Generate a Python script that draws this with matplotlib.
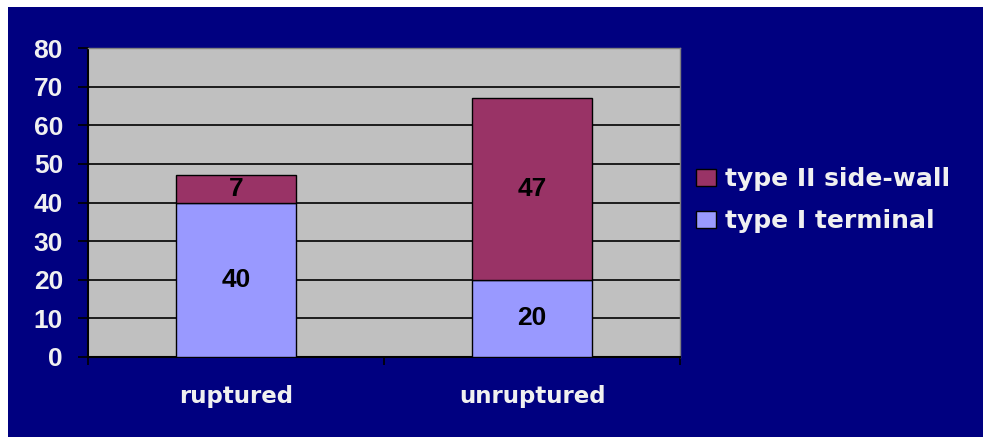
import matplotlib
matplotlib.use('Agg')
import matplotlib.pyplot as plt
from matplotlib.patches import Rectangle
import numpy as np

categories = ['ruptured', 'unruptured']
type1_terminal = [40, 20]
type2_sidewall = [7, 47]
y_ticks = [0, 10, 20, 30, 40, 50, 60, 70, 80]

NAVY = '#000080'
GRAY = '#C0C0C0'
BLUE = '#9999FF'
PURPLE = '#993366'
TXT = '#F0F0F0'
NUMFONT = ['Liberation Sans', 'DejaVu Sans']

plt.rcParams['font.family'] = ['DejaVu Sans']
plt.rcParams['font.weight'] = 'bold'

fig = plt.figure(figsize=(9.83, 4.37), dpi=100, facecolor='white')
# navy chart background, white strip at top and left
fig.patches.append(Rectangle((8/983, 0), 1 - 8/983, 430/437, transform=fig.transFigure,
                             facecolor=NAVY, edgecolor='none', zorder=-10))

ax = fig.add_axes([88/983, 80/437, 592/983, 309/437])
ax.set_facecolor(GRAY)

x = np.arange(len(categories))
b1 = ax.bar(x, type1_terminal, width=0.405, color=BLUE, edgecolor='black', linewidth=1,
            label='type I terminal', zorder=3)
b2 = ax.bar(x, type2_sidewall, width=0.405, bottom=type1_terminal, color=PURPLE,
            edgecolor='black', linewidth=1, label='type II side-wall', zorder=3)
for bc in (b1, b2):
    for t in ax.bar_label(bc, label_type='center', fontsize=19, fontweight='bold', color='black'):
        t.set_family(NUMFONT)

ax.set_xlim(-0.5, 1.5)
ax.set_ylim(0, 80)
ax.set_yticks(y_ticks)
ax.set_yticklabels([str(t) for t in y_ticks], fontsize=19, fontweight='bold', color=TXT,
                   family=NUMFONT)
ax.yaxis.grid(True, color='black', linewidth=1.2, zorder=1)
ax.set_axisbelow(True)

ax.set_xticks(x)
ax.set_xticklabels(categories, fontsize=16.5, fontweight='bold', color=TXT)
ax.set_xticks([-0.5, 0.5, 1.5], minor=True)
ax.tick_params(axis='x', which='major', length=0, pad=20)
ax.tick_params(axis='x', which='minor', length=6, width=1.2, color='black', direction='out')
ax.tick_params(axis='y', length=7, width=1.2, color='black', direction='out', pad=11)

for s in ['left', 'bottom']:
    ax.spines[s].set_color('black')
    ax.spines[s].set_linewidth(1.5)
for s in ['top', 'right']:
    ax.spines[s].set_color('#808080')
    ax.spines[s].set_linewidth(1)

handles = [b2, b1]
leg = fig.legend(handles, [h.get_label() for h in handles], loc='upper left',
                 bbox_to_anchor=(686/983, 1 - 157/437), frameon=False,
                 fontsize=18, handlelength=0.8, handleheight=0.65, handletextpad=0.35,
                 labelspacing=0.72, borderaxespad=0)
for t in leg.get_texts():
    t.set_color(TXT)
    t.set_fontweight('bold')

fig.savefig('out.png', dpi=100, facecolor=fig.get_facecolor())
